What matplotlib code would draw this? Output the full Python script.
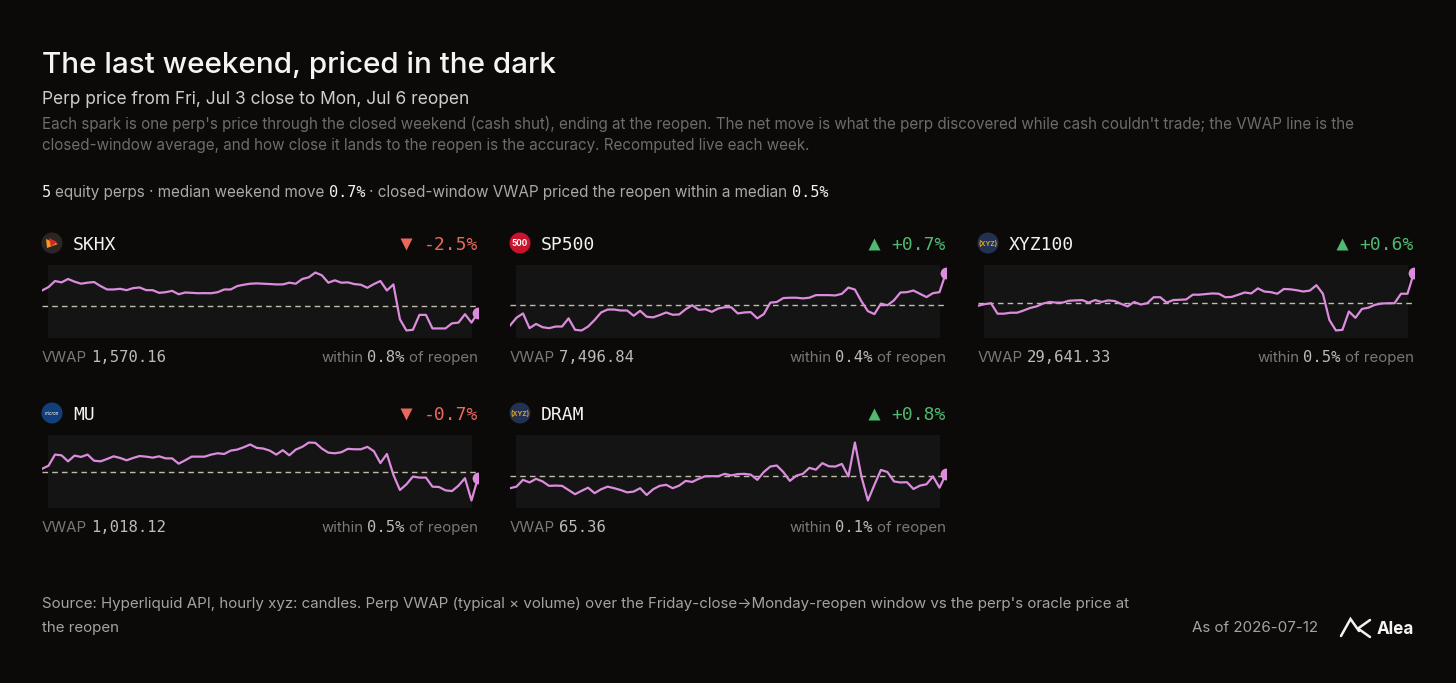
import matplotlib
matplotlib.use("Agg")
import matplotlib.pyplot as plt
from matplotlib.patches import Rectangle, Circle

# ---------------- data ----------------
tickers = ["SKHX", "SP500", "XYZ100", "MU", "DRAM"]
changes = ["-2.5%", "+0.7%", "+0.6%", "-0.7%", "+0.8%"]
vwap_labels = ["1,570.16", "7,496.84", "29,641.33", "1,018.12", "65.36"]
vwap_values = [1570.16, 7496.84, 29641.33, 1018.12, 65.36]
within_labels = ["0.8%", "0.4%", "0.5%", "0.5%", "0.1%"]

skhx = [1599.8, 1606.1, 1617.4, 1614.9, 1621.2, 1616.2, 1612.4, 1614.3, 1615.5, 1608.0,
        1601.7, 1601.7, 1602.9, 1600.4, 1604.2, 1605.4, 1600.4, 1600.4, 1595.4, 1596.6,
        1599.1, 1592.8, 1596.0, 1595.4, 1594.7, 1594.9, 1594.7, 1596.6, 1601.7, 1601.7,
        1608.0, 1610.5, 1612.4, 1613.0, 1612.4, 1611.8, 1611.1, 1611.1, 1614.3, 1612.4,
        1621.2, 1624.3, 1633.2, 1628.1, 1614.3, 1618.7, 1614.3, 1614.9, 1611.7, 1610.5,
        1604.8, 1611.7, 1617.4, 1599.8, 1611.1, 1546.2, 1525.4, 1526.7, 1554.4, 1554.4,
        1529.2, 1529.2, 1529.2, 1538.7, 1540.0, 1555.7, 1540.0, 1558.8]
sp500 = [7478.2, 7485.4, 7489.3, 7475.8, 7479.7, 7476.7, 7475.8, 7477.3, 7477.3, 7484.8,
         7474.3, 7473.7, 7477.3, 7483.3, 7490.2, 7492.9, 7492.9, 7492.0, 7492.0, 7487.2,
         7491.7, 7486.3, 7485.7, 7487.8, 7490.2, 7488.1, 7488.4, 7493.2, 7496.8, 7492.6,
         7493.2, 7490.8, 7493.8, 7495.0, 7495.0, 7489.3, 7490.2, 7490.5, 7484.8, 7488.7,
         7499.2, 7499.8, 7503.4, 7503.7, 7503.7, 7503.1, 7503.7, 7506.1, 7506.1, 7506.1,
         7505.8, 7507.3, 7513.0, 7511.2, 7500.4, 7491.4, 7488.7, 7498.3, 7496.8, 7501.3,
         7508.5, 7508.8, 7510.3, 7507.3, 7504.3, 7507.9, 7508.8, 7526.8]
xyz100 = [29625.7, 29633.5, 29638.2, 29586.7, 29586.7, 29591.4, 29591.4, 29602.3, 29614.8, 29622.6,
          29636.6, 29644.4, 29641.3, 29641.3, 29650.7, 29652.2, 29653.8, 29641.3, 29653.8, 29644.4,
          29652.2, 29649.1, 29635.1, 29622.6, 29644.4, 29631.9, 29638.2, 29667.8, 29667.8, 29641.3,
          29653.8, 29655.3, 29656.9, 29680.3, 29680.3, 29683.4, 29686.5, 29685.0, 29667.8, 29669.4,
          29680.3, 29691.2, 29686.5, 29711.5, 29695.9, 29692.8, 29685.0, 29708.4, 29706.8, 29702.1,
          29695.9, 29700.6, 29727.1, 29685.0, 29555.5, 29504.0, 29507.1, 29597.6, 29566.4, 29610.1,
          29616.3, 29630.4, 29636.6, 29638.2, 29638.2, 29685.0, 29685.0, 29789.5]
mu = [1021.4, 1024.4, 1035.3, 1034.6, 1028.7, 1034.3, 1033.0, 1035.3, 1029.3, 1028.7,
      1031.0, 1033.6, 1032.0, 1029.7, 1032.0, 1033.9, 1033.3, 1032.3, 1033.6, 1031.6,
      1031.6, 1026.4, 1029.7, 1033.3, 1033.3, 1033.3, 1035.3, 1036.6, 1035.9, 1039.2,
      1040.2, 1042.5, 1045.2, 1041.9, 1041.2, 1039.2, 1035.3, 1039.6, 1034.6, 1040.2,
      1042.9, 1047.1, 1046.8, 1041.2, 1037.2, 1036.6, 1037.6, 1040.9, 1040.5, 1040.5,
      1042.9, 1038.6, 1027.0, 1035.9, 1015.5, 1000.6, 1006.2, 1013.8, 1012.8, 1012.8,
      1003.9, 1003.6, 1000.3, 999.6, 1004.9, 1012.2, 990.4, 1012.8]
dram = [64.91, 64.97, 65.23, 65.13, 65.27, 65.17, 65.00, 65.01, 65.00, 64.84,
        64.68, 64.81, 64.93, 64.72, 64.87, 64.97, 64.91, 64.84, 64.75, 64.78,
        64.91, 64.65, 64.87, 65.00, 65.04, 64.91, 65.01, 65.19, 65.15, 65.27,
        65.37, 65.37, 65.37, 65.46, 65.40, 65.45, 65.46, 65.43, 65.23, 65.53,
        65.74, 65.78, 65.53, 65.19, 65.39, 65.46, 65.69, 65.62, 65.87, 65.75,
        65.74, 65.84, 65.36, 66.66, 65.36, 64.44, 65.04, 65.61, 65.53, 65.17,
        65.13, 65.14, 64.88, 65.01, 65.06, 65.36, 64.93, 65.45]
series = [skhx, sp500, xyz100, mu, dram]

title = "The last weekend, priced in the dark"
subtitle = "Perp price from Fri, Jul 3 close to Mon, Jul 6 reopen"
desc1 = ("Each spark is one perp's price through the closed weekend (cash shut), ending at the reopen. "
         "The net move is what the perp discovered while cash couldn't trade; the VWAP line is the")
desc2 = "closed-window average, and how close it lands to the reopen is the accuracy. Recomputed live each week."
foot1 = ("Source: Hyperliquid API, hourly xyz: candles. Perp VWAP (typical \u00d7 volume) over the "
         "Friday-close\u2192Monday-reopen window vs the perp's oracle price at")
foot2 = "the reopen"
asof = "As of 2026-07-12"

# ---------------- style ----------------
BG = "#0b0a09"
PANEL = "#141414"
LINE = "#dc8cdc"
DASH = "#c4bcaa"
RED = "#e8695c"
GREEN = "#4fba6f"
SANS = ["Inter", "DejaVu Sans"]
MONO = ["DejaVu Sans Mono"]

W, H = 1456, 683
fig = plt.figure(figsize=(W / 100, H / 100), dpi=100)
fig.patch.set_facecolor(BG)
renderer = fig.canvas.get_renderer()

ov = fig.add_axes([0, 0, 1, 1])
ov.set_xlim(0, W)
ov.set_ylim(H, 0)
ov.axis("off")


def text_run(y, parts, x=None, right=None, target=None, gap_em=0.27):
    ts = []
    for s, fam, sz, colr, wt in parts:
        t = ov.text(0, y, s, fontfamily=fam, fontsize=sz * 0.72, color=colr,
                    fontweight=wt, ha="left", va="baseline")
        ts.append(t)

    def measure():
        ws = [t.get_window_extent(renderer).width for t in ts]
        gaps = [gap_em * t.get_fontsize() / 0.72 for t in ts[:-1]]
        return ws, gaps

    ws, gaps = measure()
    if target:
        k = target / (sum(ws) + sum(gaps))
        for t in ts:
            t.set_fontsize(t.get_fontsize() * k)
        ws, gaps = measure()
    tot = sum(ws) + sum(gaps)
    cur = x if x is not None else right - tot
    for i, t in enumerate(ts):
        t.set_x(cur)
        cur += ws[i] + (gaps[i] if i < len(gaps) else 0)
    return ts, cur


# header texts
text_run(73, [(title, SANS, 30, "#f4f4f4", "medium")], x=42, target=514)
text_run(104, [(subtitle, SANS, 17, "#cdcdcd", "normal")], x=42, target=426)
ts, _ = text_run(129, [(desc1, SANS, 15, "#6c6c6c", "normal")], x=42, target=1318)
dsz = ts[0].get_fontsize() / 0.72
text_run(150, [(desc2, SANS, dsz, "#6c6c6c", "normal")], x=42)

SG = "#a9a9a9"
text_run(197, [("5", MONO, 15, "#f2f2f2", "normal"),
               ("equity perps \u00b7 median weekend move", SANS, 15, SG, "normal"),
               ("0.7%", MONO, 15, "#f2f2f2", "normal"),
               ("\u00b7 closed-window VWAP priced the reopen within a median", SANS, 15, SG, "normal"),
               ("0.5%", MONO, 15, "#f2f2f2", "normal")], x=42, target=791)

# footer
ts, _ = text_run(608, [(foot1, SANS, 15, "#a3a3a3", "normal")], x=42, target=1091)
fsz = ts[0].get_fontsize() / 0.72
text_run(632, [(foot2, SANS, fsz, "#a3a3a3", "normal")], x=42)
text_run(632, [(asof, SANS, fsz, "#a3a3a3", "normal")], right=1318)
# Alea logo
ov.plot([1341, 1350.5, 1359], [636, 619, 631], color="#f2f2f2", lw=1.8, solid_capstyle="round",
        solid_joinstyle="miter")
ov.plot([1370, 1358, 1370], [620, 628.5, 637], color="#f2f2f2", lw=1.8, solid_capstyle="round")
text_run(634, [("Alea", SANS, 17, "#f4f4f4", "bold")], x=1377)


def draw_icon(name, cx, cy):
    r = 10.5
    if name == "SKHX":
        ov.add_patch(Circle((cx, cy), r, facecolor="#2b2622", edgecolor="none"))
        ov.add_patch(plt.Polygon([[cx - 6, cy - 4], [cx + 6, cy + 1], [cx - 5, cy + 5]],
                                 facecolor="#f29b1d", edgecolor="none"))
        ov.add_patch(plt.Polygon([[cx - 3, cy - 5], [cx + 5, cy - 1], [cx - 1, cy + 4]],
                                 facecolor="#d8262b", edgecolor="none"))
    elif name == "SP500":
        ov.add_patch(Circle((cx, cy), r, facecolor="#c8142c", edgecolor="none"))
        ov.text(cx, cy + 0.5, "500", ha="center", va="center", fontsize=5.8, color="white",
                fontweight="bold", fontfamily=SANS)
    elif name == "MU":
        ov.add_patch(Circle((cx, cy), r, facecolor="#123f7a", edgecolor="none"))
        ov.text(cx, cy + 0.3, "micron", ha="center", va="center", fontsize=3.2, color="white",
                fontstyle="italic", fontfamily=SANS)
    else:
        ov.add_patch(Circle((cx, cy), r, facecolor="#223150", edgecolor="none"))
        ov.text(cx, cy + 0.3, "(XYZ)", ha="center", va="center", fontsize=4.8, color="#d5a52c",
                fontweight="bold", fontfamily=SANS)


PW = 436
for i, name in enumerate(tickers):
    col, row = i % 3, i // 3
    x0 = 42 + col * 468
    dy = row * 170
    vals = series[i]
    n = len(vals)
    up = changes[i].startswith("+")
    ccol = GREEN if up else RED

    # header
    draw_icon(name, x0 + 10, 243 + dy)
    text_run(250 + dy, [(name, MONO, 18, "#f2f2f2", "normal")], x=x0 + 31)
    ts, _ = text_run(250 + dy, [(changes[i], MONO, 18, ccol, "normal")], right=x0 + PW)
    tl = ts[0].get_position()[0]
    ov.plot(tl - 18, 243.5 + dy, marker="^" if up else "v", ms=8.5, color=ccol, mec="none")

    # footer row
    text_run(362 + dy, [("VWAP", SANS, 15, "#787878", "normal"),
                        (vwap_labels[i], MONO, 15.5, "#bcbcbc", "normal")], x=x0)
    text_run(362 + dy, [("within", SANS, 15, "#787878", "normal"),
                        (within_labels[i], MONO, 15.5, "#bcbcbc", "normal"),
                        ("of reopen", SANS, 15, "#787878", "normal")], right=x0 + PW)

    # spark
    y_top, y_bot = 265 + dy, 338 + dy
    ax = fig.add_axes([x0 / W, 1 - y_bot / H, PW / W, (y_bot - y_top) / H])
    ax.set_xlim(0, n - 1)
    lo, hi = min(vals), max(vals)
    rng = hi - lo
    ax.set_ylim(lo - 0.13 * rng, hi + 0.13 * rng)
    ax.axis("off")
    ax.add_patch(Rectangle((6 / PW, 0), (PW - 12) / PW, 1, transform=ax.transAxes,
                           facecolor=PANEL, edgecolor="none", zorder=0))
    ax.axhline(vwap_values[i], color=DASH, lw=1.0, ls=(0, (4, 3)), zorder=1)
    ax.plot(range(n), vals, color=LINE, lw=1.6, zorder=2, solid_joinstyle="round")
    ax.plot([n - 1], [vals[-1]], marker="o", ms=8.5, color=LINE, mec="none", zorder=3)

fig.savefig("out.png", dpi=100, facecolor=BG)
